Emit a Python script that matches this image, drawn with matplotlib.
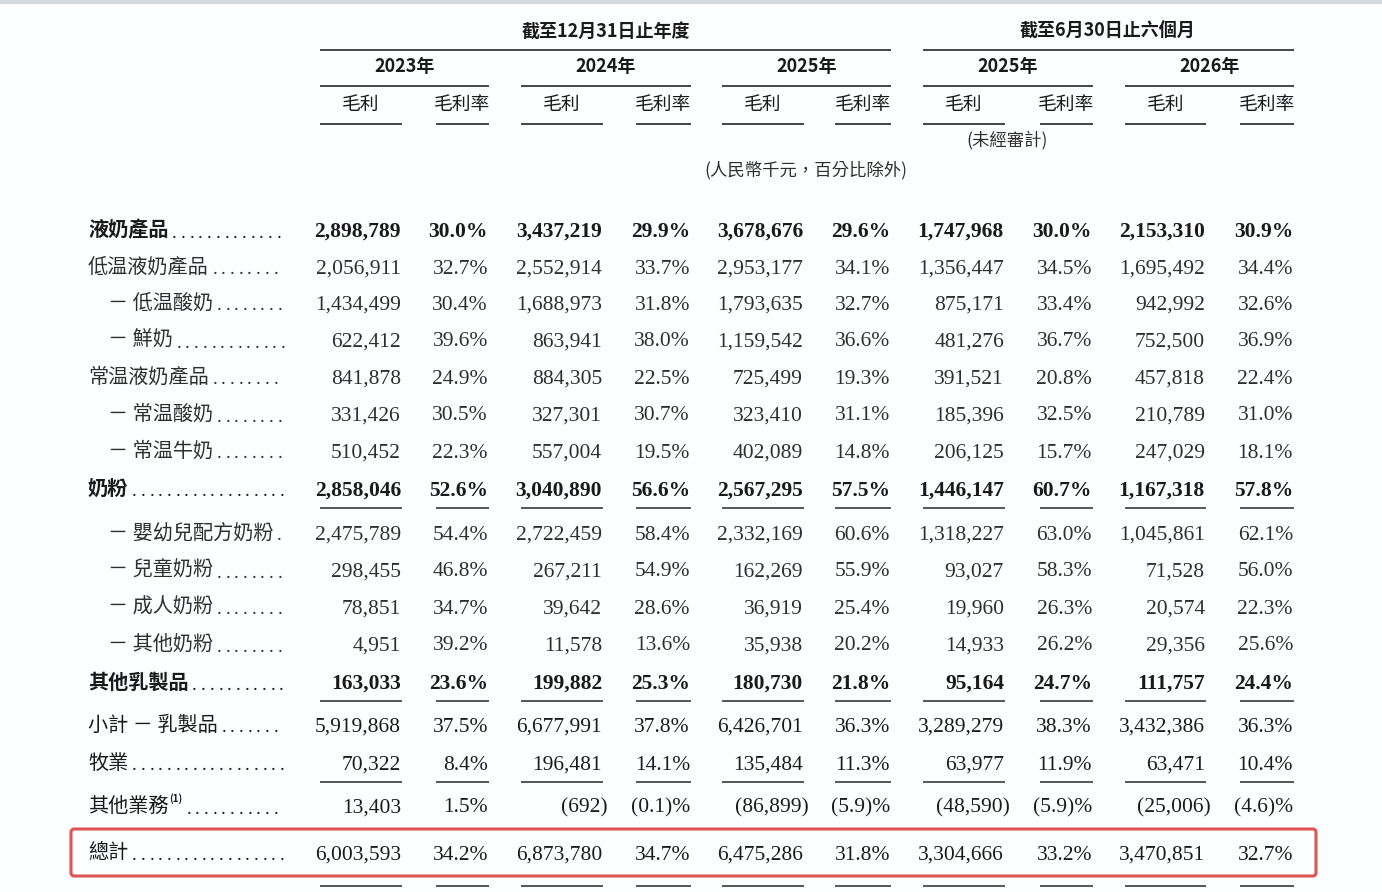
import matplotlib
matplotlib.use("Agg")
from matplotlib import pyplot as plt
from matplotlib.patches import FancyBboxPatch

plt.rcParams['font.family'] = ['Noto Sans CJK TC', 'DejaVu Sans']

# row labels
labels = ['液奶產品', '低温液奶產品', '－ 低温酸奶', '－ 鮮奶', '常温液奶產品', '－ 常温酸奶',
          '－ 常温牛奶', '奶粉', '－ 嬰幼兒配方奶粉', '－ 兒童奶粉', '－ 成人奶粉', '－ 其他奶粉',
          '其他乳製品', '小計 － 乳製品', '牧業', '其他業務', '總計']

# gross profit (RMB thousand) and gross margin (%)
gp_2023 = [2898789, 2056911, 1434499, 622412, 841878, 331426, 510452, 2858046, 2475789,
           298455, 78851, 4951, 163033, 5919868, 70322, 13403, 6003593]
gm_2023 = [30.0, 32.7, 30.4, 39.6, 24.9, 30.5, 22.3, 52.6, 54.4, 46.8, 34.7, 39.2, 23.6,
           37.5, 8.4, 1.5, 34.2]
gp_2024 = [3437219, 2552914, 1688973, 863941, 884305, 327301, 557004, 3040890, 2722459,
           267211, 39642, 11578, 199882, 6677991, 196481, -692, 6873780]
gm_2024 = [29.9, 33.7, 31.8, 38.0, 22.5, 30.7, 19.5, 56.6, 58.4, 54.9, 28.6, 13.6, 25.3,
           37.8, 14.1, -0.1, 34.7]
gp_2025 = [3678676, 2953177, 1793635, 1159542, 725499, 323410, 402089, 2567295, 2332169,
           162269, 36919, 35938, 180730, 6426701, 135484, -86899, 6475286]
gm_2025 = [29.6, 34.1, 32.7, 36.6, 19.3, 31.1, 14.8, 57.5, 60.6, 55.9, 25.4, 20.2, 21.8,
           36.3, 11.3, -5.9, 31.8]
gp_h1_2025 = [1747968, 1356447, 875171, 481276, 391521, 185396, 206125, 1446147, 1318227,
              93027, 19960, 14933, 95164, 3289279, 63977, -48590, 3304666]
gm_h1_2025 = [30.0, 34.5, 33.4, 36.7, 20.8, 32.5, 15.7, 60.7, 63.0, 58.3, 26.3, 26.2, 24.7,
              38.3, 11.9, -5.9, 33.2]
gp_h1_2026 = [2153310, 1695492, 942992, 752500, 457818, 210789, 247029, 1167318, 1045861,
              71528, 20574, 29356, 111757, 3432386, 63471, -25006, 3470851]
gm_h1_2026 = [30.9, 34.4, 32.6, 36.9, 22.4, 31.0, 18.1, 57.8, 62.1, 56.0, 22.3, 25.6, 24.4,
              36.3, 10.4, -4.6, 32.7]

year_labels = ['2023年', '2024年', '2025年', '2025年', '2026年']
group_labels = ['截至12月31日止年度', '截至6月30日止六個月']

periods = [(gp_2023, gm_2023), (gp_2024, gm_2024), (gp_2025, gm_2025),
           (gp_h1_2025, gm_h1_2025), (gp_h1_2026, gm_h1_2026)]

# layout (pixels)
row_y = [230, 267, 303, 340, 377, 414, 451, 489, 533, 570, 607, 644, 682, 725, 763, 806, 853]
gp_span = [(321, 401), (522, 602), (723, 803), (924, 1004), (1126, 1205)]
gm_span = [(437, 488), (637, 690), (836, 890), (1041, 1092), (1241, 1293)]
bold_rows = [0, 7, 12]
dark_rows = [13, 14, 15, 16]
rule_after = [508, 701, 782]

ink = '#1a1a1a'
soft = '#2e2e2e'
num_font = ['Liberation Serif', 'DejaVu Serif']

fig = plt.figure(figsize=(13.82, 8.92), dpi=100)
ax = fig.add_axes([0, 0, 1, 1])
ax.set_xlim(0, 1382)
ax.set_ylim(892, 0)
ax.axis('off')
fig.patch.set_facecolor('#fdfeff')

ax.plot([0, 1382], [1.5, 1.5], color='#d5dade', lw=3)

# header
ax.text(606, 31, group_labels[0], ha='center', va='center', fontsize=13,
        fontweight='bold', color=ink)
ax.text(1108, 31, group_labels[1], ha='center', va='center', fontsize=13,
        fontweight='bold', color=ink)
ax.plot([321, 890], [50, 50], color='#444', lw=1.4)
ax.plot([924, 1293], [50, 50], color='#444', lw=1.4)

for i in range(5):
    left = gp_span[i][0]
    right = gm_span[i][1]
    ax.text((left + right) / 2, 67, year_labels[i], ha='center', va='center',
            fontsize=13, fontweight='bold', color=ink)
    ax.plot([left, right], [86, 86], color='#444', lw=1.4)
    for (a, b), name in [(gp_span[i], '毛利'), (gm_span[i], '毛利率')]:
        ax.text((a + b) / 2, 104, name, ha='center', va='center', fontsize=13.5,
                fontweight='medium', color=ink)
        ax.plot([a, b], [124, 124], color='#444', lw=1.4)

ax.text(1007, 140, '(未經審計)', ha='center', va='center', fontsize=12.5,
        style='italic', color=soft)
ax.text(806, 170, '(人民幣千元，百分比除外)', ha='center', va='center', fontsize=12.5,
        style='italic', color=soft)

# rows
renderer = fig.canvas.get_renderer()
for r, label in enumerate(labels):
    y = row_y[r]
    x0 = 88 if not label.startswith('－') else 108
    weight = 'bold' if r in bold_rows else ('medium' if r in dark_rows else 'normal')
    col = ink if (r in bold_rows or r in dark_rows) else soft
    t = ax.text(x0, y, label, ha='left', va='center', fontsize=14.5, fontweight=weight,
                color=col)
    bb = t.get_window_extent(renderer)
    end = bb.x1
    if label == '其他業務':
        s = ax.text(end + 1, y - 7, '(1)', ha='left', va='center', fontsize=7,
                    fontweight='bold', color=ink)
        end = s.get_window_extent(renderer).x1
    x = end + 6
    while x < 284:
        ax.text(x, y + 3, '.', ha='center', va='center', fontsize=14, color=col,
                family=num_font)
        x += 8.7

    nweight = 'bold' if r in bold_rows else 'normal'
    ny = y + 2
    for i, (gp, gm) in enumerate(periods):
        v = gp[r]
        if v < 0:
            ax.text(gp_span[i][1] + 6, ny, '({:,})'.format(-v), ha='right', va='center',
                    fontsize=15.5, fontweight=nweight, color=col, family=num_font)
        else:
            ax.text(gp_span[i][1], ny, '{:,}'.format(v), ha='right', va='center',
                    fontsize=15.5, fontweight=nweight, color=col, family=num_font)
        m = gm[r]
        txt = '({:.1f})%'.format(-m) if m < 0 else '{:.1f}%'.format(m)
        ax.text(gm_span[i][1], ny, txt, ha='right', va='center', fontsize=15.5,
                fontweight=nweight, color=col, family=num_font)

# underlines under numbers
for yy in rule_after + [886]:
    for i in range(5):
        ax.plot(gp_span[i], [yy, yy], color='#555', lw=1.4)
        ax.plot(gm_span[i], [yy, yy], color='#555', lw=1.4)

# highlight box around total
box = FancyBboxPatch((71, 829), 1245, 47, boxstyle='round,pad=0,rounding_size=3',
                     fill=False, edgecolor='#de5454', lw=2.2)
ax.add_patch(box)

fig.savefig('out.png', dpi=100, facecolor=fig.get_facecolor())
